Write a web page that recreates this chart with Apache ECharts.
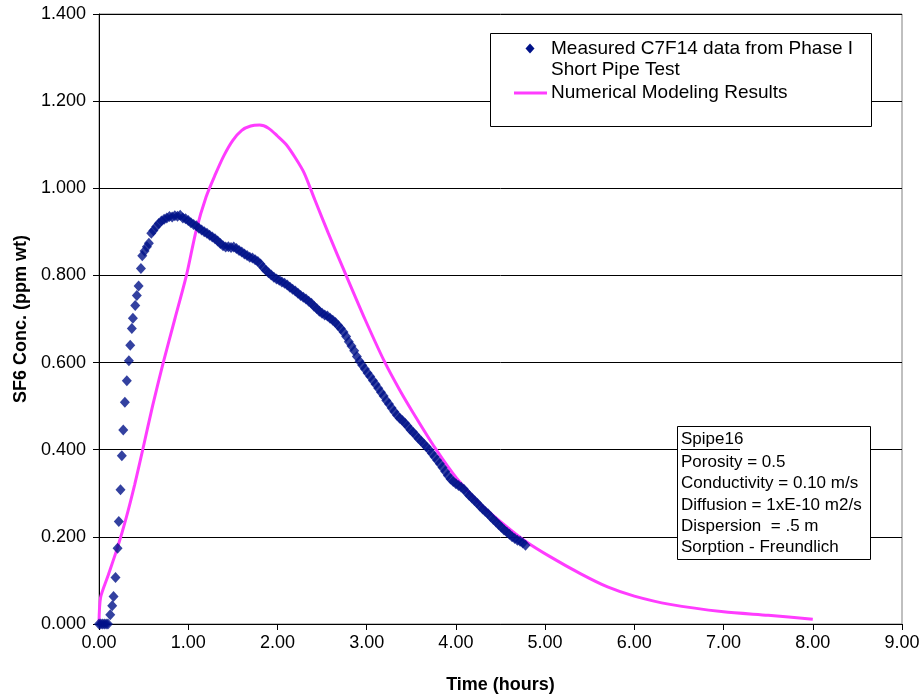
<!DOCTYPE html>
<html>
<head>
<meta charset="utf-8">
<title>SF6 Concentration vs Time</title>
<script src="https://cdn.jsdelivr.net/npm/echarts@6/dist/echarts.min.js"></script>
<style>
  html, body { margin: 0; padding: 0; background: #ffffff; }
  #chart { width: 924px; height: 696px; }
</style>
</head>
<body>
<div id="chart"></div>
<script>
// Measured tracer breakthrough (hours, ppm wt)
const measuredTime = [
  0.00, 0.02, 0.04, 0.06, 0.08, 0.10, 0.126, 0.148, 0.163, 0.185, 0.208, 0.222, 0.241, 0.256,
  0.272, 0.29, 0.312, 0.335, 0.35, 0.368, 0.38, 0.406, 0.424, 0.444, 0.47, 0.485, 0.511, 0.537,
  0.559, 0.586,
  0.61, 0.64, 0.67, 0.70, 0.73, 0.76, 0.79, 0.82, 0.85, 0.88, 0.91, 0.94, 0.97, 1.00, 1.03,
  1.06, 1.09, 1.12, 1.15, 1.18, 1.21, 1.24, 1.27, 1.30, 1.33, 1.36, 1.39, 1.42, 1.45, 1.48,
  1.51, 1.54, 1.57, 1.60, 1.63, 1.66, 1.69, 1.72, 1.75, 1.78, 1.81, 1.84, 1.87, 1.90, 1.93,
  1.96, 1.99, 2.02, 2.05, 2.08, 2.11, 2.14, 2.17, 2.20, 2.23, 2.26, 2.29, 2.32, 2.35, 2.38,
  2.41, 2.44, 2.47, 2.50, 2.53, 2.56, 2.59, 2.62, 2.65, 2.68, 2.71, 2.74, 2.77, 2.80, 2.83,
  2.86, 2.89, 2.92, 2.95, 2.98, 3.01, 3.04, 3.07, 3.10, 3.13, 3.16, 3.19, 3.22, 3.25, 3.28,
  3.31, 3.34, 3.37, 3.40, 3.43, 3.46, 3.49, 3.52, 3.55, 3.58, 3.61, 3.64, 3.67, 3.70, 3.73,
  3.76, 3.79, 3.82, 3.85, 3.88, 3.91, 3.94, 3.97, 4.00, 4.03, 4.06, 4.09, 4.12, 4.15, 4.18,
  4.21, 4.24, 4.27, 4.30, 4.33, 4.36, 4.39, 4.42, 4.45, 4.48, 4.51, 4.54, 4.57, 4.60, 4.63,
  4.66, 4.69, 4.72, 4.75, 4.78
];
const measuredConc = [
  0, 0, 0, 0, 0, 0, 0.021, 0.042, 0.063, 0.107, 0.174, 0.235, 0.308, 0.386,
  0.445, 0.509, 0.558, 0.604, 0.640, 0.678, 0.702, 0.731, 0.754, 0.776, 0.816, 0.845, 0.856, 0.866,
  0.874, 0.897,
  0.903, 0.912, 0.919, 0.925, 0.929, 0.932, 0.935, 0.934, 0.937, 0.936, 0.938, 0.932, 0.930, 0.926, 0.921,
  0.917, 0.914, 0.908, 0.904, 0.900, 0.897, 0.892, 0.888, 0.884, 0.879, 0.873, 0.868, 0.865, 0.866, 0.864,
  0.865, 0.862, 0.857, 0.854, 0.849, 0.846, 0.842, 0.840, 0.836, 0.832, 0.826, 0.818, 0.812, 0.806, 0.801,
  0.796, 0.792, 0.789, 0.785, 0.782, 0.778, 0.773, 0.768, 0.764, 0.759, 0.754, 0.750, 0.746, 0.741, 0.736,
  0.729, 0.724, 0.718, 0.713, 0.709, 0.707, 0.702, 0.697, 0.692, 0.685, 0.678, 0.670, 0.660, 0.648, 0.638,
  0.627, 0.614, 0.603, 0.594, 0.585, 0.576, 0.568, 0.559, 0.550, 0.541, 0.532, 0.523, 0.513, 0.505, 0.496,
  0.487, 0.479, 0.472, 0.467, 0.461, 0.454, 0.446, 0.440, 0.433, 0.426, 0.420, 0.413, 0.407, 0.400, 0.392,
  0.384, 0.376, 0.368, 0.359, 0.350, 0.341, 0.333, 0.327, 0.322, 0.318, 0.314, 0.309, 0.302, 0.295, 0.289,
  0.283, 0.277, 0.270, 0.264, 0.258, 0.253, 0.246, 0.240, 0.234, 0.228, 0.222, 0.216, 0.211, 0.206, 0.200,
  0.196, 0.192, 0.190, 0.186, 0.181
];

// Numerical model output (hours, ppm wt)
const modelTime = [
  0.00, 0.017, 0.10, 0.21, 0.30, 0.40, 0.49, 0.60, 0.72, 0.85, 0.98, 1.09, 1.20, 1.30, 1.40,
  1.50, 1.60, 1.70, 1.80, 1.90, 2.00, 2.10, 2.20, 2.30, 2.42, 2.57, 2.77, 2.98, 3.20, 3.37,
  3.52, 3.77, 4.01, 4.25, 4.50, 4.78, 5.06, 5.40, 5.70, 6.00, 6.40, 7.00, 7.50, 8.00
];
const modelConc = [
  0.000, 0.060, 0.110, 0.177, 0.240, 0.320, 0.400, 0.500, 0.600, 0.700, 0.800, 0.904, 0.980, 1.030, 1.075,
  1.110, 1.133, 1.143, 1.145, 1.138, 1.120, 1.100, 1.070, 1.035, 0.973, 0.897, 0.800, 0.700, 0.602, 0.537,
  0.485, 0.403, 0.334, 0.280, 0.235, 0.190, 0.154, 0.115, 0.085, 0.064, 0.045, 0.028, 0.020, 0.011
];

const measuredName = 'Measured C7F14 data from Phase I\nShort Pipe Test';
const modelName = 'Numerical Modeling Results';
const xTitle = 'Time (hours)';
const yTitle = 'SF6 Conc. (ppm wt)';
const noteTitle = 'Spipe16';
const noteLines = [
  'Porosity = 0.5',
  'Conductivity = 0.10 m/s',
  'Diffusion = 1xE-10 m2/s',
  'Dispersion  = .5 m',
  'Sorption - Freundlich'
];

const FONT = '"Liberation Sans", Arial, sans-serif';
const NAVY = '#001188';
const MAGENTA = '#ff3cff';

const measured = measuredTime.map((t, i) => [t, measuredConc[i]]);
const model = modelTime.map((t, i) => [t, modelConc[i]]);

const chart = echarts.init(document.getElementById('chart'), null, { renderer: 'canvas' });

const option = {
  backgroundColor: '#ffffff',
  animation: false,
  grid: {
    left: 99, right: 22, top: 14, bottom: 72,
    outerBoundsMode: 'none', containLabel: false,
    show: true, borderColor: '#808080', borderWidth: 1, backgroundColor: 'transparent'
  },
  xAxis: {
    type: 'value', min: 0, max: 9, interval: 1,
    name: xTitle, nameLocation: 'middle', nameGap: 52,
    nameTextStyle: { fontFamily: FONT, fontSize: 18, fontWeight: 'bold', color: '#000' },
    axisLine: { lineStyle: { color: '#000', width: 1 } },
    axisTick: { show: true, length: 6, inside: false, lineStyle: { color: '#000' } },
    axisLabel: { fontFamily: FONT, fontSize: 18, color: '#000', margin: 10, formatter: v => v.toFixed(2) },
    splitLine: { show: false }
  },
  yAxis: {
    type: 'value', min: 0, max: 1.4, interval: 0.2,
    name: yTitle, nameLocation: 'middle', nameGap: 67, nameRotate: 90,
    nameTextStyle: { fontFamily: FONT, fontSize: 18, fontWeight: 'bold', color: '#000' },
    axisLine: { show: true, lineStyle: { color: '#000', width: 1 } },
    axisTick: { show: true, length: 6, inside: false, lineStyle: { color: '#000' } },
    axisLabel: { fontFamily: FONT, fontSize: 18, color: '#000', margin: 13, formatter: v => v.toFixed(3) },
    splitLine: { show: true, lineStyle: { color: '#000', width: 1 } }
  },
  series: [
    {
      name: modelName, type: 'line', data: model, showSymbol: false, smooth: 0.25,
      lineStyle: { color: MAGENTA, width: 3 }, z: 2
    },
    {
      name: measuredName, type: 'scatter', data: measured, symbol: 'diamond', symbolSize: [10, 11],
      itemStyle: { color: NAVY }, z: 3
    }
  ],
  graphic: [
    // legend box
    { type: 'rect', shape: { x: 490.5, y: 33.5, width: 381, height: 93 }, style: { fill: '#fff', stroke: '#000', lineWidth: 1 }, z: 10 },
    { type: 'polygon', shape: { points: [[530, 43.5], [534.5, 48.5], [530, 53.5], [525.5, 48.5]] }, style: { fill: NAVY }, z: 11 },
    { type: 'text', left: 551, top: 38, style: { text: measuredName, font: '19px ' + FONT, fill: '#000', lineHeight: 21 }, z: 11 },
    { type: 'line', shape: { x1: 514, y1: 93, x2: 547, y2: 93 }, style: { stroke: MAGENTA, lineWidth: 3 }, z: 11 },
    { type: 'text', left: 551, top: 83, style: { text: modelName, font: '19px ' + FONT, fill: '#000' }, z: 11 },
    // parameter note box
    { type: 'rect', shape: { x: 677.5, y: 426.5, width: 193, height: 133 }, style: { fill: '#fff', stroke: '#000', lineWidth: 1 }, z: 10 },
    { type: 'text', left: 681, top: 431, style: { text: noteTitle, font: '17px ' + FONT, fill: '#000' }, z: 11 },
    { type: 'line', shape: { x1: 681, y1: 449.5, x2: 740, y2: 449.5 }, style: { stroke: '#000', lineWidth: 1 }, z: 11 },
    { type: 'text', left: 681, top: 452, style: { text: noteLines.join('\n'), font: '17px ' + FONT, fill: '#000', lineHeight: 21.2 }, z: 11 }
  ]
};

chart.setOption(option);
</script>
</body>
</html>
